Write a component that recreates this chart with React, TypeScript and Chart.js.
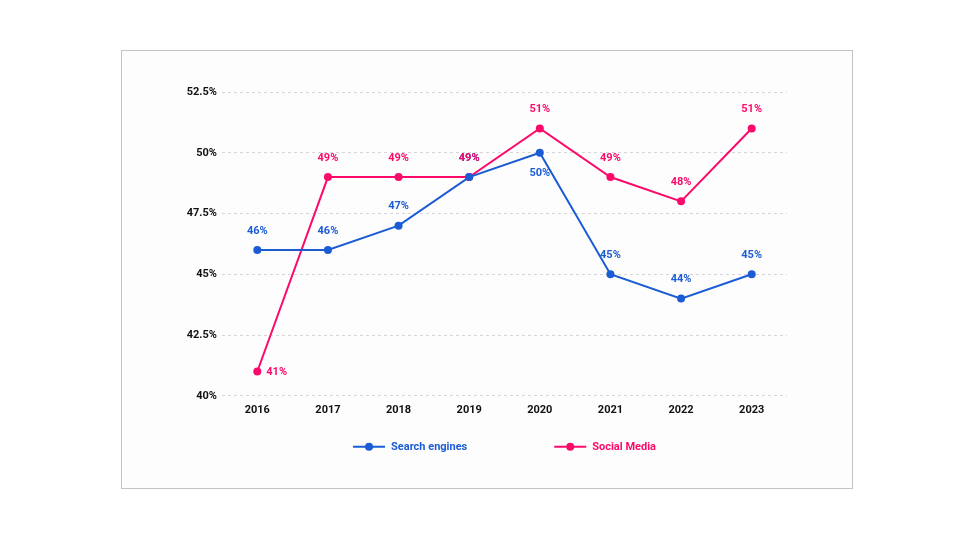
import React, { useEffect, useRef } from "react";
import { Chart, registerables } from "chart.js";

Chart.register(...registerables);

const years = ["2016", "2017", "2018", "2019", "2020", "2021", "2022", "2023"];
const searchEngines = [46, 46, 47, 49, 50, 45, 44, 45];
const socialMedia = [41, 49, 49, 49, 51, 49, 48, 51];
const searchLabelPos = ["top", "top", "top", "top", "bottom", "top", "top", "top"];
const socialLabelPos = ["right", "top", "top", "top", "top", "top", "top", "top"];
const yTicks = [40, 42.5, 45, 47.5, 50, 52.5];

const BLUE = "#1b5cd4";
const PINK = "#fc0a6a";
const FONT = "Roboto, 'DejaVu Sans', sans-serif";

const dataLabels = {
  id: "dataLabels",
  afterDatasetsDraw(chart: any) {
    const ctx = chart.ctx;
    const posSets = [searchLabelPos, socialLabelPos];
    chart.data.datasets.forEach((ds: any, di: number) => {
      const meta = chart.getDatasetMeta(di);
      meta.data.forEach((pt: any, i: number) => {
        const pos = posSets[di][i];
        ctx.save();
        ctx.font = `bold 11px ${FONT}`;
        ctx.fillStyle = ds.borderColor;
        ctx.textBaseline = "middle";
        let x = pt.x;
        let y = pt.y;
        if (pos === "top") {
          ctx.textAlign = "center";
          y -= 19;
        } else if (pos === "bottom") {
          ctx.textAlign = "center";
          y += 20;
        } else {
          ctx.textAlign = "left";
          x += 9;
          y += 1;
        }
        ctx.fillText(`${ds.data[i]}%`, x, y);
        ctx.restore();
      });
    });
  },
};

const customLegend = {
  id: "customLegend",
  afterDraw(chart: any) {
    const ctx = chart.ctx;
    const area = chart.chartArea;
    const cx = (area.left + area.right) / 2;
    const y = area.bottom + 51;
    const iconW = 32;
    const gapText = 6;
    const gapItems = 87;
    ctx.save();
    ctx.font = `bold 11px ${FONT}`;
    const ds = chart.data.datasets;
    const widths = ds.map((d: any) => ctx.measureText(d.label).width);
    const total =
      widths.reduce((a: number, w: number) => a + w + iconW + gapText, 0) + gapItems * (ds.length - 1);
    let x = cx - total / 2;
    ds.forEach((d: any, i: number) => {
      const color = d.borderColor;
      ctx.strokeStyle = color;
      ctx.lineWidth = 2;
      ctx.beginPath();
      ctx.moveTo(x, y);
      ctx.lineTo(x + iconW, y);
      ctx.stroke();
      ctx.fillStyle = color;
      ctx.beginPath();
      ctx.arc(x + iconW / 2, y, 4, 0, Math.PI * 2);
      ctx.fill();
      ctx.textAlign = "left";
      ctx.textBaseline = "middle";
      ctx.fillText(d.label, x + iconW + gapText, y);
      x += iconW + gapText + widths[i] + gapItems;
    });
    ctx.restore();
  },
};

export default function App() {
  const ref = useRef<HTMLCanvasElement>(null);
  useEffect(() => {
    if (!ref.current) return;
    const chart = new Chart(ref.current, {
      type: "line",
      data: {
        labels: years,
        datasets: [
          {
            label: "Search engines",
            data: searchEngines,
            borderColor: BLUE,
            backgroundColor: BLUE,
            borderWidth: 2,
            pointRadius: 4,
            pointStyle: "circle",
            pointBackgroundColor: BLUE,
            pointBorderWidth: 0,
            tension: 0,
          },
          {
            label: "Social Media",
            data: socialMedia,
            borderColor: PINK,
            backgroundColor: PINK,
            borderWidth: 2,
            pointRadius: 4,
            pointStyle: "circle",
            pointBackgroundColor: PINK,
            pointBorderWidth: 0,
            tension: 0,
          },
        ],
      },
      options: {
        animation: false,
        responsive: false,
        maintainAspectRatio: false,
        layout: { padding: { left: 40, right: 65, top: 41, bottom: 63 } },
        plugins: {
          tooltip: { enabled: false },
          legend: { display: false },
        },
        scales: {
          x: {
            offset: true,
            grid: { display: false, drawTicks: false },
            border: { display: false },
            ticks: {
              color: "#111",
              padding: 8,
              font: { family: FONT, size: 11, weight: "bold" },
            },
          },
          y: {
            min: 40,
            max: 52.5,
            afterFit: (s: any) => {
              s.width = 60;
            },
            afterBuildTicks: (s: any) => {
              s.ticks = yTicks.map((v) => ({ value: v }));
            },
            grid: {
              color: "#d6d6d6",
              drawTicks: false,
            },
            border: { display: false, dash: [3, 3] },
            ticks: {
              color: "#111",
              padding: 5,
              font: { family: FONT, size: 11, weight: "bold" },
              callback: (v: any) => `${v}%`,
            },
          },
        },
      },
      plugins: [dataLabels, customLegend],
    });
    return () => chart.destroy();
  }, []);

  return (
    <div
      style={{
        position: "absolute",
        left: 121,
        top: 50,
        width: 730,
        height: 437,
        border: "1px solid #c4c4c4",
        background: "#fdfdfd",
      }}
    >
      <canvas ref={ref} width={730} height={437} style={{ width: 730, height: 437, display: "block" }} />
    </div>
  );
}
